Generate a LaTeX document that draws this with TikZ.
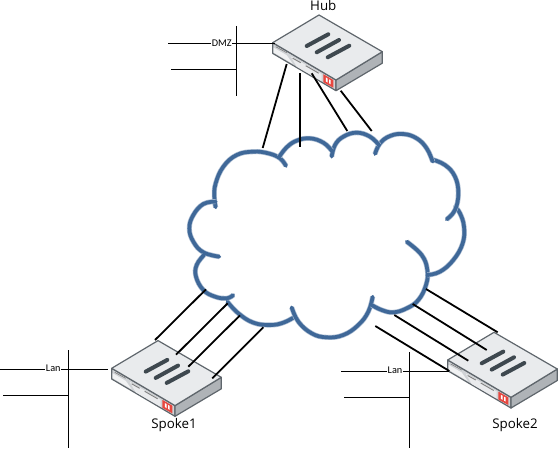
\documentclass[tikz,border=0pt]{standalone}
\usepackage{fontspec}
\setmainfont{Open Sans}
\newfontfamily\smallfont{Carlito}
\definecolor{cloudblue}{HTML}{3F6898}
\definecolor{devedgecol}{HTML}{5F666C}
\definecolor{slotcol}{HTML}{3E484F}
\definecolor{topcol}{HTML}{E9EBED}
\definecolor{frontcol}{HTML}{D0D3D6}
\definecolor{sidecol}{HTML}{AFB3B7}
\definecolor{logored}{HTML}{E8473F}
\tikzset{
  x=0.75pt,y=-0.75pt,
  wire/.style={draw=black,line width=0.75pt},
  link/.style={draw=black,line width=1.35pt},
  cloudarc/.style={draw=cloudblue,line width=2.8pt,line cap=round,line join=round,
    preaction={draw=cloudblue!45,line width=3.8pt}},
  netlabel/.style={fill=white,inner sep=0.4pt,font=\smallfont\fontsize{7.7}{9}\selectfont},
  devlabel/.style={inner sep=0pt,font=\fontsize{10}{12}\selectfont},
  devedge/.style={draw=devedgecol,line width=0.9pt,line join=round},
  slot/.style={draw=slotcol,line width=3pt,line cap=round},
}
% #1 left corner x, #2 left corner y, #3 node name
\newcommand{\device}[3]{%
\begin{scope}[shift={(#1,#2)}]
  \coordinate (#3) at (0,0);
  \filldraw[devedge,fill=frontcol] (0,0) -- (63.3,37.3) -- (63.3,48) -- (0,10.7) -- cycle;
  \filldraw[devedge,fill=sidecol] (63.3,37.3) -- (109.6,9) -- (109.6,20.5) -- (63.3,48) -- cycle;
  \filldraw[devedge,fill=topcol] (0,0) -- (46.3,-27.7) -- (109.6,9) -- (63.3,37.3) -- cycle;
  \fill[white!70!frontcol] (1,5) -- (14,12.5) -- (20,21) -- (1,9.8) -- cycle;
  \fill[white!55!frontcol] (18,13.5) -- (49,31.5) -- (49,38.5) -- (24,24) -- cycle;
  \draw[gray,line width=0.5pt] (3,4) -- (14,10);
  \draw[gray,line width=0.7pt] (20,15.5) -- (28,20);
  \draw[gray,line width=0.7pt] (33,23) -- (46,30.5);
  \draw[slot] (34,3.3) -- (55.6,-8.4);
  \draw[slot] (44,9.6) -- (66.3,-2.7);
  \draw[slot] (55,14.6) -- (76.6,3);
  \fill[logored] (50.6,31.5) -- (60.6,37.3) -- (60.6,45) -- (50.6,39.5) -- cycle;
  \fill[white] (53.2,34.8) -- (58,37.6) -- (58,41.6) -- (53.2,38.8) -- cycle;
  \fill[logored] (55,35.5) -- (56.2,36.2) -- (56.2,41) -- (55,40.3) -- cycle;
\end{scope}}
\begin{document}
\begin{tikzpicture}
\useasboundingbox (0,0) rectangle (559,449);
% cloud, in coordinates of thirds of a pixel from (180,130)
\begin{scope}[shift={(180,130)},x=0.25pt,y=-0.25pt]
\foreach \arcpts in {
 {(318,108)(300,85)(265,70)(220,65)(170,75)(130,110)(107,160)(103,200)(107,232)},
 {(107,215)(70,222)(40,255)(28,295)(40,335)(70,367)(118,380)},
 {(72,375)(50,405)(48,440)(70,480)(105,500)(140,505)(160,495)},
 {(142,515)(175,550)(220,578)(270,585)(310,578)(345,560)},
 {(335,532)(355,575)(395,610)(440,622)(490,615)(535,585)(565,545)(578,500)},
 {(575,525)(605,540)(640,547)(680,535)(715,510)(738,465)(742,420)(725,375)(680,335)},
 {(742,435)(780,425)(820,390)(848,340)(852,290)(840,250)(825,230)},
 {(800,268)(825,240)(835,190)(825,140)(795,105)(755,88)},
 {(758,95)(740,55)(710,25)(670,12)(630,18)(600,40)(585,72)},
 {(597,45)(570,20)(530,8)(490,20)(465,45)(455,80)},
 {(455,62)(430,38)(390,25)(350,32)(320,52)(298,80)}}
 {\draw[cloudarc] plot[smooth,tension=0.7] coordinates {\arcpts};}
\end{scope}
% devices
\device{272.7}{42.7}{hub}
\device{111.7}{368.3}{spokeA}
\device{447.7}{360}{spokeB}
% cloud-side and device-side end points
\foreach \n/\x/\y in {
  ha/286.7/64,hb/300/73.3,hc/311.7/73.3,hd/340.7/90.7,
  hA/262.7/148,hB/300/146.7,hC/347.3/131,hD/371.7/131,
  sa/155/340,sb/176/354.7,sc/188.3/366.7,sd/212.3/378.3,
  sA/206/289.3,sB/227.7/303.3,sC/240/315.3,sD/263.3/327.3,
  ta/497.7/332.3,tb/486.7/350,tc/468.3/360.7,td/449.3/371,
  tA/426/289,tB/412.7/304,tC/394.3/315,tD/375.3/326,
  d1/168.3/44,d2/275/44,d3/171/69.3,d4/236.3/69.3,d5/236.3/26,d6/236.3/95.7,
  e1/0/369.3,e2/107.7/369.3,e3/3.3/395.3,e4/68.3/395.3,e5/68.3/350,e6/68.3/448.3,
  f1/341/371,f2/449.3/371,f3/344.3/397.3,f4/409.3/397.3,f5/409.3/352.3,f6/409.3/448.3}
  {\coordinate (\n) at (\x,\y);}
\draw[link] (ha) -- (hA);
\draw[link] (hb) -- (hB);
\draw[link] (hc) -- (hC);
\draw[link] (hd) -- (hD);
\draw[link] (sa) -- (sA);
\draw[link] (sb) -- (sB);
\draw[link] (sc) -- (sC);
\draw[link] (sd) -- (sD);
\draw[link] (ta) -- (tA);
\draw[link] (tb) -- (tB);
\draw[link] (tc) -- (tC);
\draw[link] (td) -- (tD);
% LAN segments
\draw[wire] (d1) -- (d2);
\draw[wire] (d3) -- (d4);
\draw[wire] (d5) -- (d6);
\draw[wire] (e1) -- (e2);
\draw[wire] (e3) -- (e4);
\draw[wire] (e5) -- (e6);
\draw[wire] (f1) -- (f2);
\draw[wire] (f3) -- (f4);
\draw[wire] (f5) -- (f6);
% labels
\node[netlabel] (dmz) at (221.7,43.7) {DMZ};
\node[netlabel] (lana) at (53.3,368.7) {Lan};
\node[netlabel] (lanb) at (395,370.7) {Lan};
\node[devlabel] (hublabel) at (323.3,6) {Hub};
\node[devlabel] (spokeonelabel) at (174,425) {Spoke1};
\node[devlabel] (spoketwolabel) at (515,425) {Spoke2};
\end{tikzpicture}
\end{document}
